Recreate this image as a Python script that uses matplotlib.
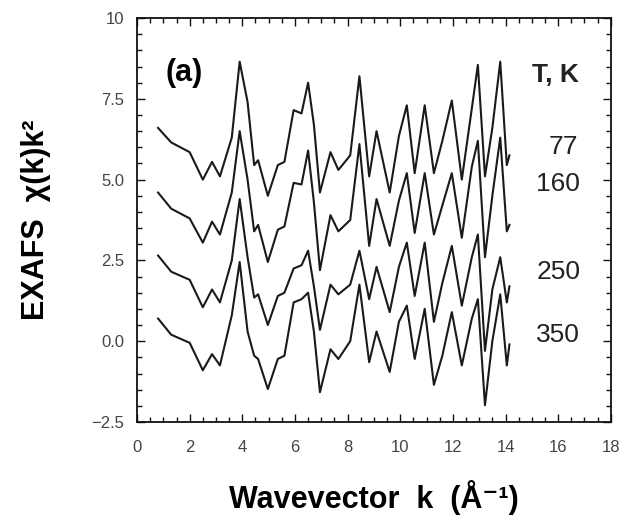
import numpy as np
import matplotlib.pyplot as plt
from matplotlib.ticker import MultipleLocator, FuncFormatter

# wavevector grid (1/Angstrom) at the turning points
k_values = [0.8, 1.3, 2.0, 2.5, 2.85, 3.15, 3.6, 3.9, 4.2, 4.45, 4.6, 4.97,
            5.35, 5.6, 5.95, 6.25, 6.5, 6.72, 6.95, 7.35, 7.65, 8.1, 8.45,
            8.82, 9.1, 9.6, 9.95, 10.25, 10.55, 10.93, 11.28, 11.6, 11.96,
            12.34, 12.72, 12.95, 13.22, 13.5, 13.8, 14.05, 14.15]

# EXAFS chi(k)k^2 for each temperature (curves already shifted in the figure)
chi_77 = [6.6, 6.15, 5.85, 5.0, 5.55, 5.1, 6.3, 8.65, 7.4, 5.45, 5.6, 4.5,
          5.45, 5.55, 7.15, 7.05, 8.0, 6.7, 4.6, 5.85, 5.3, 5.75, 8.2,
          5.1, 6.5, 4.6, 6.35, 7.3, 5.2, 7.3, 5.2, 6.2, 7.45,
          5.0, 7.2, 8.55, 5.1, 6.6, 8.65, 5.45, 5.75]
chi_160 = [4.6, 4.1, 3.8, 3.05, 3.7, 3.3, 4.6, 6.5, 5.0, 3.4, 3.6, 2.45,
           3.45, 3.55, 4.9, 4.85, 5.9, 4.3, 2.2, 3.9, 3.4, 3.75, 6.1,
           2.95, 4.4, 2.95, 4.35, 5.2, 3.35, 5.2, 3.3, 4.2, 5.2,
           3.2, 5.4, 6.2, 2.6, 4.5, 6.3, 3.4, 3.6]
chi_250 = [2.65, 2.15, 1.9, 1.05, 1.6, 1.2, 2.5, 4.4, 2.6, 1.35, 1.45, 0.5,
           1.4, 1.5, 2.25, 2.35, 2.8, 1.7, 0.35, 1.75, 1.45, 1.75, 2.8,
           1.3, 2.3, 0.9, 2.3, 3.05, 1.4, 3.05, 0.6, 1.8, 2.95,
           1.1, 2.6, 3.3, -0.3, 1.6, 2.6, 1.2, 1.7]
chi_350 = [0.7, 0.2, -0.05, -0.9, -0.4, -0.75, 0.8, 2.45, 0.3, -0.45, -0.55, -1.48,
           -0.55, -0.45, 1.2, 1.3, 1.5, 0.3, -1.58, -0.25, -0.55, 0.0, 1.75,
           -0.65, 0.3, -0.95, 0.6, 1.1, -0.55, 1.0, -1.35, -0.45, 0.9,
           -0.75, 0.7, 1.3, -1.98, 0.0, 1.45, -0.75, -0.1]

temperatures = ['77', '160', '250', '350']


def y_label_fmt(v, pos):
    """纵轴刻度：10 写成整数，其余保留一位小数"""
    if abs(v - 10) < 1e-6:
        return '10'
    return f'{v:.1f}'.replace('-', '\u2212')


def plot_exafs():
    """画出四个温度下的 EXAFS 曲线"""
    plt.rcParams['font.family'] = ['Liberation Sans', 'DejaVu Sans']
    fig = plt.figure(figsize=(6.3, 5.28), dpi=100)
    ax = fig.add_axes([0.2175, 0.2008, 0.752, 0.765])

    for chi in [chi_77, chi_160, chi_250, chi_350]:
        ax.plot(k_values, chi, '-', color='#1a1a1a', lw=1.5,
                solid_joinstyle='round')

    ax.set_xlim(0, 18)
    ax.set_ylim(-2.5, 10)
    ax.xaxis.set_major_locator(MultipleLocator(2))
    ax.xaxis.set_minor_locator(MultipleLocator(0.5))
    ax.yaxis.set_major_locator(MultipleLocator(2.5))
    ax.yaxis.set_minor_locator(MultipleLocator(0.5))
    ax.yaxis.set_major_formatter(FuncFormatter(y_label_fmt))
    ax.tick_params(which='both', direction='in', top=True, right=True,
                   colors='#111111', labelcolor='#444444', labelsize=12)
    ax.tick_params(which='major', length=6, width=1.0)
    ax.tick_params(which='minor', length=3.5, width=1.0)
    ax.tick_params(axis='x', pad=13)
    ax.tick_params(axis='y', pad=9)
    for s in ax.spines.values():
        s.set_linewidth(1.3)
        s.set_color('#111111')

    # 标注
    ax.text(1.1, 8.3, '(a)', fontsize=22, fontweight='bold', va='center')
    ax.text(15.9, 8.25, 'T, K', fontsize=19, fontweight='bold',
            ha='center', va='center', color='#222222')
    label_x = [16.2, 16.0, 16.0, 16.0]
    label_y = [6.0, 4.85, 2.15, 0.2]
    for t, x, y in zip(temperatures, label_x, label_y):
        ax.text(x, y, t, fontsize=19, ha='center', va='center',
                color='#222222')

    ax.set_xlabel('Wavevector  k  (Å\u207b\u00b9)', fontsize=22,
                  fontweight='bold', labelpad=18)
    ax.set_ylabel('EXAFS  χ(k)k\u00b2', fontsize=22, fontweight='bold',
                  labelpad=29)

    plt.savefig('out.png', dpi=100)


def main():
    plot_exafs()


if __name__ == "__main__":
    main()
